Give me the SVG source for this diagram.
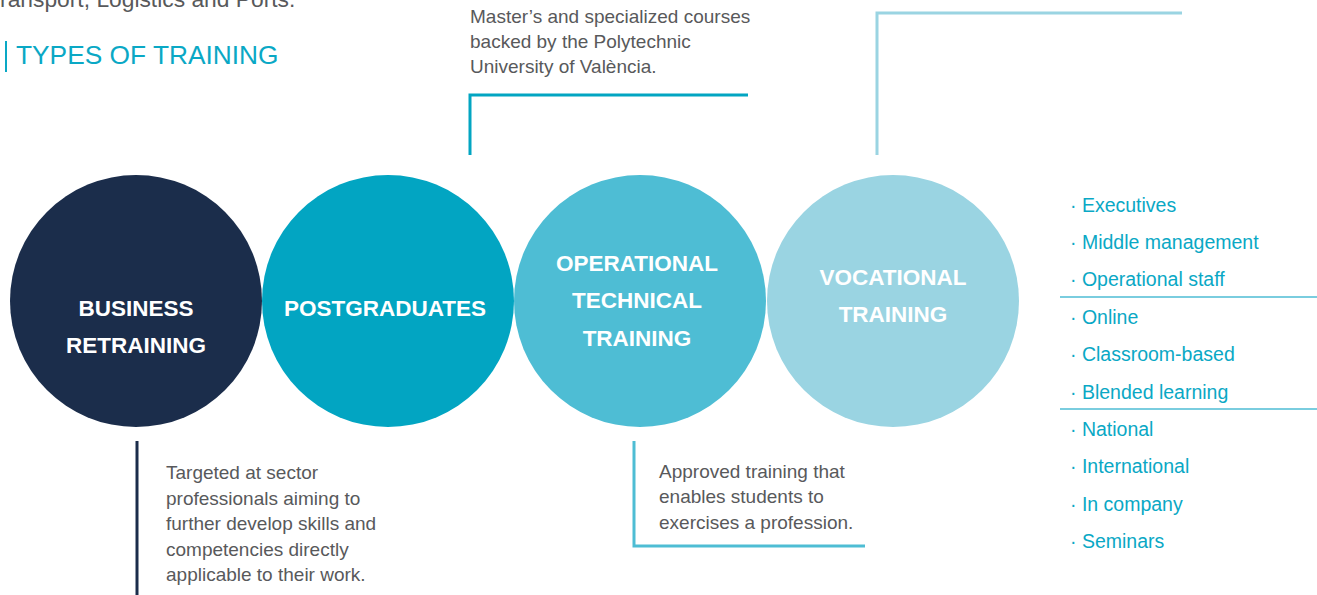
<svg xmlns="http://www.w3.org/2000/svg" width="1317" height="595" viewBox="0 0 1317 595">
<style>
.body{font-family:"Liberation Sans",Arial,sans-serif;font-size:19px;fill:#58595b}
.lbl{font-family:"Liberation Sans",Arial,sans-serif;font-size:22.5px;font-weight:bold;fill:#ffffff;text-anchor:middle}
.lst{font-family:"Liberation Sans",Arial,sans-serif;font-size:19.5px;fill:#0aa8c5}
.ttl{font-family:"Liberation Sans",Arial,sans-serif;font-size:26.3px;fill:#0aa8c5}
.ln{fill:none;stroke-width:3}
</style>
<rect width="1317" height="595" fill="#ffffff"/>
<text class="body" x="-13" y="7" style="font-size:22.8px">Transport, Logistics and Ports.</text>
<g id="title">
<rect x="5" y="41" width="2" height="31" fill="#0aa8c5"/>
<text class="ttl" x="16" y="64">TYPES OF TRAINING</text>
</g>
<g id="connectors">
<polyline class="ln" stroke="#1b2d4b" points="137,441 137,595"/>
<polyline class="ln" stroke="#02a5c2" points="470,155 470,95 748,95"/>
<polyline class="ln" stroke="#4ebdd4" points="634,441 634,546 865,546"/>
<polyline class="ln" stroke="#9ad4e2" points="877,155 877,13 1182,13"/>
</g>
<g id="business">
<circle cx="136" cy="301" r="126" fill="#1b2d4b"/>
<text class="lbl" x="136" y="316">BUSINESS</text>
<text class="lbl" x="136" y="353">RETRAINING</text>
<text class="body" x="166" y="479">Targeted at sector</text>
<text class="body" x="166" y="505">professionals aiming to</text>
<text class="body" x="166" y="530">further develop skills and</text>
<text class="body" x="166" y="556">competencies directly</text>
<text class="body" x="166" y="581">applicable to their work.</text>
</g>
<g id="postgraduates">
<circle cx="388" cy="301" r="126" fill="#02a5c2"/>
<text class="lbl" x="385" y="316">POSTGRADUATES</text>
<text class="body" x="470" y="23">Master’s and specialized courses</text>
<text class="body" x="470" y="48">backed by the Polytechnic</text>
<text class="body" x="470" y="73">University of València.</text>
</g>
<g id="operational">
<circle cx="640" cy="301" r="126" fill="#4ebdd4"/>
<text class="lbl" x="637" y="271">OPERATIONAL</text>
<text class="lbl" x="637" y="308">TECHNICAL</text>
<text class="lbl" x="637" y="346">TRAINING</text>
<text class="body" x="659" y="478">Approved training that</text>
<text class="body" x="659" y="503">enables students to</text>
<text class="body" x="659" y="529">exercises a profession.</text>
</g>
<g id="vocational">
<circle cx="893" cy="301" r="126" fill="#9ad4e2"/>
<text class="lbl" x="893" y="285">VOCATIONAL</text>
<text class="lbl" x="893" y="322">TRAINING</text>
</g>
<g id="list">
<text class="lst" x="1070" y="212">· Executives</text>
<text class="lst" x="1070" y="249">· Middle management</text>
<text class="lst" x="1070" y="286">· Operational staff</text>
<line x1="1060" y1="297" x2="1317" y2="297" stroke="#4ebdd4" stroke-width="1.5"/>
<text class="lst" x="1070" y="324">· Online</text>
<text class="lst" x="1070" y="361">· Classroom-based</text>
<text class="lst" x="1070" y="399">· Blended learning</text>
<line x1="1060" y1="409" x2="1317" y2="409" stroke="#4ebdd4" stroke-width="1.5"/>
<text class="lst" x="1070" y="436">· National</text>
<text class="lst" x="1070" y="473">· International</text>
<text class="lst" x="1070" y="511">· In company</text>
<text class="lst" x="1070" y="548">· Seminars</text>
</g>
</svg>
